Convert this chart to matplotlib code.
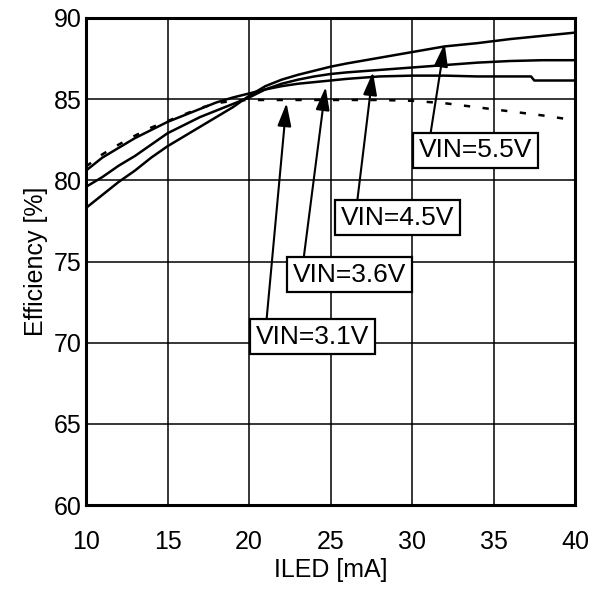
import matplotlib
matplotlib.use("Agg")
import matplotlib.pyplot as plt

plt.rcParams['font.family'] = ['Liberation Sans', 'DejaVu Sans']

# ILED [mA] and efficiency [%], one curve per VIN
iled_low = [10, 11, 12, 13, 14, 15, 16, 17, 18, 19, 20, 21, 22, 23, 24, 25, 26, 28, 30, 32, 34, 36, 38, 40]

eff_55 = [78.3, 79.1, 79.9, 80.6, 81.4, 82.1, 82.7, 83.3, 83.9, 84.5, 85.2, 85.8, 86.2, 86.5, 86.75,
          87.0, 87.2, 87.55, 87.9, 88.25, 88.45, 88.7, 88.9, 89.1]
eff_45 = [79.6, 80.2, 80.9, 81.5, 82.2, 82.9, 83.4, 83.9, 84.3, 84.7, 85.1, 85.6, 85.95, 86.2, 86.4,
          86.55, 86.65, 86.8, 86.95, 87.1, 87.25, 87.35, 87.4, 87.4]

iled_36 = [10, 11, 12, 13, 14, 15, 16, 17, 18, 19, 20, 21, 22, 23, 24, 25, 26, 28, 30, 32, 34, 36, 37.3, 37.5, 40]
eff_36 = [80.6, 81.4, 82.0, 82.6, 83.1, 83.6, 84.0, 84.4, 84.8, 85.1, 85.35, 85.6, 85.8, 85.95, 86.05,
          86.15, 86.25, 86.4, 86.45, 86.45, 86.4, 86.4, 86.4, 86.15, 86.15]

iled_31 = [10, 11, 12, 13, 14, 15, 16, 17, 18, 19, 20, 22, 24, 26, 28, 30, 32, 34, 36, 38, 40]
eff_31 = [80.85, 81.6, 82.2, 82.75, 83.25, 83.65, 84.05, 84.45, 84.75, 84.9, 84.95, 84.95, 84.95, 84.95,
          84.95, 84.9, 84.75, 84.5, 84.25, 84.0, 83.7]

labels = ['VIN=5.5V', 'VIN=4.5V', 'VIN=3.6V', 'VIN=3.1V']
arrow_tips = [(32.0, 88.43), (27.6, 86.67), (24.7, 85.75), (22.3, 84.76)]
label_pos = [(33.87, 81.84), (29.11, 77.71), (26.17, 74.2), (23.9, 70.38)]
arrow_rel = [0.1, 0.14, 0.09, 0.09]

fig = plt.figure(figsize=(5.99, 5.90), dpi=100)
ax = fig.add_axes([0.1436, 0.144, 0.8164, 0.8255])

lw = 1.8
ax.plot(iled_low, eff_55, color='black', lw=lw)
ax.plot(iled_low, eff_45, color='black', lw=lw)
ax.plot(iled_36, eff_36, color='black', lw=lw)
ax.plot(iled_31, eff_31, color='black', lw=lw, linestyle=(0, (2.5, 5)))

for lab, tip, pos, rel in zip(labels, arrow_tips, label_pos, arrow_rel):
    ax.annotate(lab, xy=tip, xytext=pos, textcoords='data',
                ha='center', va='center', fontsize=19,
                bbox=dict(boxstyle='square,pad=0.22', fc='white', ec='black', lw=1.6),
                arrowprops=dict(arrowstyle='-|>,head_length=1.0,head_width=0.3',
                                mutation_scale=14, color='black', lw=1.5,
                                shrinkA=0, shrinkB=0, relpos=(rel, 1.0)))

ax.set_xlim(10, 40)
ax.set_ylim(60, 90)
ax.set_xticks([10, 15, 20, 25, 30, 35, 40])
ax.set_yticks([60, 65, 70, 75, 80, 85, 90])
ax.grid(True, color='black', lw=1.1)
ax.set_axisbelow(True)
ax.tick_params(length=0, labelsize=18)
ax.tick_params(axis='x', pad=18)
ax.tick_params(axis='y', pad=3)
for sp in ax.spines.values():
    sp.set_linewidth(2.2)

ax.set_xlabel('ILED [mA]', fontsize=18, labelpad=3)
ax.set_ylabel('Efficiency [%]', fontsize=18, labelpad=4)

fig.savefig('out.png', dpi=100)
